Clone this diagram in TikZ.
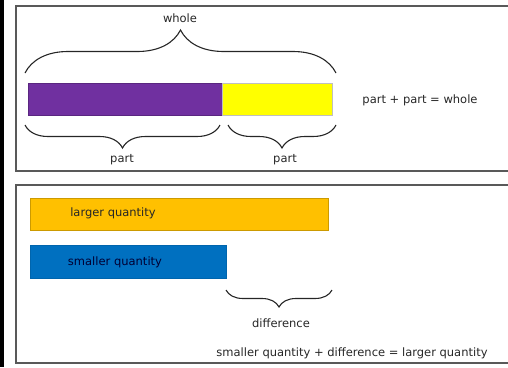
\documentclass[tikz,border=0pt]{standalone}
\usepackage{fontspec}
\setmainfont{DejaVu Sans}
\usetikzlibrary{decorations.pathreplacing, positioning}
\definecolor{barpurple}{HTML}{7030A0}
\definecolor{baryellow}{HTML}{FFFF00}
\definecolor{barorange}{HTML}{FFC000}
\definecolor{barblue}{HTML}{0070C0}
\tikzstyle{frame} = [draw=black!65, line width=1.6pt]
\tikzstyle{bar} = [rectangle, inner sep=0, anchor=north west]
\tikzstyle{txt} = [font=\fontsize{11.5}{13}\selectfont, text=black!85, inner sep=1pt]
\tikzstyle{curly} = [decorate, line width=1.1pt, black!85]

\begin{document}
\begin{tikzpicture}[x=1pt, y=-1pt]
				\useasboundingbox (0, 0) rectangle (508, 367);
				\fill [black] (0, 0) rectangle (4, 367);

				% the two panels
				\coordinate (TopNE) at (510, 6);
				\coordinate (TopNW) at (16, 6);
				\coordinate (TopSW) at (16, 171);
				\coordinate (TopSE) at (510, 171);
				\draw [frame] (TopNE) -- (TopNW) -- (TopSW) -- (TopSE);
				\coordinate (LowNE) at (510, 185);
				\coordinate (LowNW) at (16, 185);
				\coordinate (LowSW) at (16, 363);
				\coordinate (LowSE) at (510, 363);
				\draw [frame] (LowNE) -- (LowNW) -- (LowSW) -- (LowSE);

				% part and part
				\node (Purple) [bar, fill=barpurple, draw=barpurple!80!black, minimum width=194pt, minimum height=32pt] at (28, 83) {};
				\node (Yellow) [bar, fill=baryellow, draw=black!25, minimum width=110pt, minimum height=32pt] at (222, 83) {};

				% whole brace
				\coordinate (WholeL) at (25, 73);
				\coordinate (WholeR) at (336, 73);
				\draw [curly, decoration={brace, amplitude=43pt}] (WholeL) -- (WholeR);
				\node (Whole) [txt] at (180, 18) {whole};

				% part braces
				\coordinate (PartAL) at (25, 125);
				\coordinate (PartAR) at (220, 125);
				\draw [curly, decoration={brace, amplitude=23pt}] (PartAR) -- (PartAL);
				\node (PartA) [txt] at (122, 160) {part};

				\coordinate (PartBL) at (228, 125);
				\coordinate (PartBR) at (336, 125);
				\draw [curly, decoration={brace, amplitude=23pt}] (PartBR) -- (PartBL);
				\node (PartB) [txt] at (285, 160) {part};

				\node (SumA) [txt] at (420, 100) {part + part = whole};

				% larger and smaller
				\node (Larger) [bar, fill=barorange, draw=barorange!80!black, minimum width=298pt, minimum height=32pt] at (30, 198) {};
				\node (LargerTxt) [txt] at (113, 213) {larger quantity};
				\node (Smaller) [bar, fill=barblue, draw=barblue!90!black, minimum width=196pt, minimum height=33pt] at (30, 245) {};
				\node (SmallerTxt) [txt, text=black!80!blue] at (115, 262) {smaller quantity};

				% difference brace
				\coordinate (DiffL) at (226, 290);
				\coordinate (DiffR) at (332, 290);
				\draw [curly, decoration={brace, amplitude=17pt}] (DiffR) -- (DiffL);
				\node (Diff) [txt] at (281, 323) {difference};

				\node (SumB) [txt] at (352, 353) {smaller quantity + difference = larger quantity};
\end{tikzpicture}
\end{document}
